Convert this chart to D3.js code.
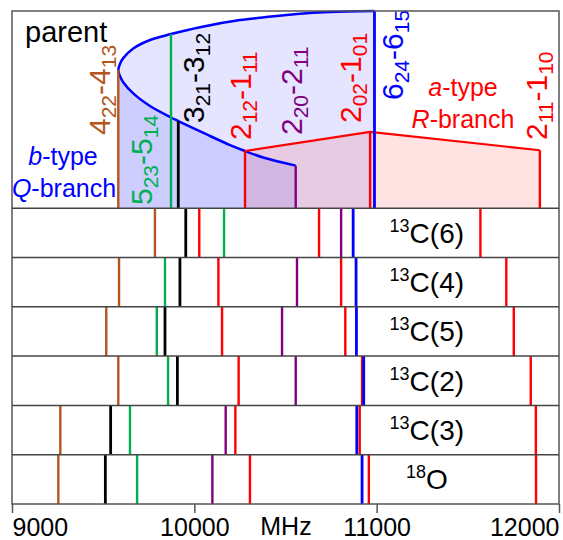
<!DOCTYPE html>
<html>
<head>
<meta charset="utf-8">
<script src="https://cdn.jsdelivr.net/npm/d3@7"></script>
<style>
body { margin:0; background:#fff; }
text { font-family: "Liberation Sans", Arial, Helvetica, sans-serif; }
</style>
</head>
<body>
<script>
// transitions (J Ka Kc - J' Ka' Kc'), same order in every frequency list below
var transitions = [
  ['4','22','4','13'], ['5','23','5','14'], ['3','21','3','12'], ['2','12','1','11'],
  ['2','20','2','11'], ['2','02','1','01'], ['6','24','6','15'], ['2','11','1','10']
];
var lineColors = ['#b4561c', '#00b050', '#000000', '#ff0000', '#800080', '#ff0000', '#0000ff', '#ff0000'];

// parent species, MHz and relative height in the top panel
var parentFreq = [9583, 9872, 9912, 10278, 10556, 10964, 10988, 11895];
var parentInt  = [0.701, 0.883, 0.442, 0.290, 0.216, 0.387, 1.0, 0.294];

// b-type Q-branch envelope
var qUpperFreq = [9583, 9592, 9610, 9665, 9757, 9872, 10031, 10250, 10376, 10563, 10744, 10988];
var qUpperInt  = [0.701, 0.731, 0.761, 0.810, 0.853, 0.883, 0.918, 0.954, 0.967, 0.985, 0.995, 1.0];
var qLowerFreq = [9583, 9592, 9610, 9665, 9757, 9872, 9912, 10068, 10196, 10278, 10378, 10556];
var qLowerInt  = [0.701, 0.670, 0.639, 0.582, 0.518, 0.460, 0.442, 0.374, 0.320, 0.290, 0.257, 0.216];

// a-type R-branch envelope
var rFreq = [10278, 10964, 11895];
var rInt  = [0.290, 0.387, 0.294];

// isotopologues
var isoSup  = ['13', '13', '13', '13', '13', '18'];
var isoName = ['C(6)', 'C(4)', 'C(5)', 'C(2)', 'C(3)', 'O'];
var c13_6 = [9784, 10163, 9953, 10027, 10805, 10684, 10871, 11569];
var c13_4 = [9587, 9839, 9921, 10132, 10563, 10805, 10887, 11711];
var c13_5 = [9517, 9794, 9839, 10152, 10481, 10828, 10889, 11752];
var c13_2 = [9583, 9856, 9907, 10243, 10556, 10920, 10929, 11845];
var c13_3 = [9265, 9647, 9541, 10225, 10172, 10907, 10891, 11873];
var o18   = [9254, 9686, 9512, 10305, 10099, 10957, 10920, 11874];
var isoFreq = [c13_6, c13_4, c13_5, c13_2, c13_3, o18];

var xTicks = [9000, 10000, 11000, 12000];

// ---- layout ----
var W = 563, H = 540;
var plot = {left:12, right:559, top:11, bottom:504};
// label placement: offset from line (px) and bottom end of rotated text (px)
var labelDx = [-8, -19, 26, 6, 6, -9, 29, 7];
var labelY  = [135, 205, 123, 140, 135, 123, 100, 140];

var svg = d3.select('body').append('svg')
            .attr('width', W)
            .attr('height', H);

var x = d3.scaleLinear().domain([9000, 12000]).range([plot.left, plot.right]);
var units = d3.scaleLinear().domain([0, 10]).range([plot.top, plot.bottom]);
var yInt = d3.scaleLinear().domain([0, 1]).range([units(4), plot.top]);

var panel = svg.append('g').classed('parent', true);

function pts(fs, is){
  return fs.map(function(f, i){ return [x(f), yInt(is[i])]; });
}
var curve = d3.line().curve(d3.curveCatmullRom.alpha(0.5));

var upper = pts(qUpperFreq, qUpperInt);
var lower = pts(qLowerFreq, qLowerInt);

// fills
panel.append('path')
   .attr('d', curve(upper) + 'L' + x(10988) + ',' + yInt(0) + 'L' + x(9583) + ',' + yInt(0) + 'Z')
   .attr('fill', '#0000ff').attr('fill-opacity', 0.1);
panel.append('path')
   .attr('d', curve(lower) + 'L' + x(10556) + ',' + yInt(0) + 'L' + x(9583) + ',' + yInt(0) + 'Z')
   .attr('fill', '#0000ff').attr('fill-opacity', 0.1);
var rPts = pts(rFreq, rInt);
panel.append('path')
   .attr('d', 'M' + x(rFreq[0]) + ',' + yInt(0) + d3.line()(rPts).replace('M', 'L') + 'L' + x(rFreq[2]) + ',' + yInt(0) + 'Z')
   .attr('fill', '#ff0000').attr('fill-opacity', 0.11);

// outlines
panel.append('path')
   .attr('d', curve(lower.slice().reverse().concat(upper.slice(1))))
   .attr('fill', 'none').attr('stroke', '#0000ff').attr('stroke-width', 2.5);
panel.append('path')
   .attr('d', d3.line()(rPts))
   .attr('fill', 'none').attr('stroke', '#ff0000').attr('stroke-width', 2.2);

// parent lines
panel.selectAll('line.tr')
   .data(parentFreq)
   .enter()
   .append('line')
   .classed('tr', true)
   .attr('x1', function(d){ return x(d); })
   .attr('x2', function(d){ return x(d); })
   .attr('y1', yInt(0))
   .attr('y2', function(d, i){ return yInt(parentInt[i]); })
   .attr('stroke', function(d, i){ return lineColors[i]; })
   .attr('stroke-width', function(d, i){ return i == 2 || i == 6 ? 2.8 : 2.4; });

// rotated transition labels
transitions.forEach(function(t, i){
  var txt = panel.append('text')
               .attr('transform', 'translate(' + (x(parentFreq[i]) + labelDx[i]) + ',' + labelY[i] + ') rotate(-90)')
               .attr('fill', lineColors[i])
               .style('font-size', '30px');
  txt.append('tspan').text(t[0]);
  txt.append('tspan').attr('dy', 6).style('font-size', '21px').text(t[1]);
  txt.append('tspan').attr('dy', -6).text('-' + t[2]);
  txt.append('tspan').attr('dy', 6).style('font-size', '21px').text(t[3]);
});

panel.append('text').attr('x', 25).attr('y', 42).style('font-size', '29px').text('parent');

var qb = panel.append('text').attr('x', 63).attr('y', 165).attr('text-anchor', 'middle')
            .attr('fill', '#0000ff').style('font-size', '25px');
qb.append('tspan').style('font-style', 'italic').text('b');
qb.append('tspan').text('-type');
var qb2 = panel.append('text').attr('x', 64).attr('y', 197).attr('text-anchor', 'middle')
             .attr('fill', '#0000ff').style('font-size', '25px');
qb2.append('tspan').style('font-style', 'italic').text('Q');
qb2.append('tspan').text('-branch');

var ra = panel.append('text').attr('x', 463).attr('y', 96).attr('text-anchor', 'middle')
            .attr('fill', '#ff0000').style('font-size', '25px');
ra.append('tspan').style('font-style', 'italic').text('a');
ra.append('tspan').text('-type');
var ra2 = panel.append('text').attr('x', 463).attr('y', 128).attr('text-anchor', 'middle')
             .attr('fill', '#ff0000').style('font-size', '25px');
ra2.append('tspan').style('font-style', 'italic').text('R');
ra2.append('tspan').text('-branch');

// isotopologue rows
var rows = svg.selectAll('g.row')
              .data(isoFreq)
              .enter()
              .append('g')
              .classed('row', true);
rows.each(function(freqs, r){
  var g = d3.select(this);
  g.selectAll('line')
   .data(freqs)
   .enter()
   .append('line')
   .attr('x1', function(d){ return x(d); })
   .attr('x2', function(d){ return x(d); })
   .attr('y1', units(4 + r))
   .attr('y2', units(5 + r))
   .attr('stroke', function(d, i){ return lineColors[i]; })
   .attr('stroke-width', function(d, i){ return i == 2 || i == 6 ? 2.8 : 2.4; });
  var lab = g.append('text')
             .attr('x', x(11275))
             .attr('y', units(4.5 + r) + 10)
             .attr('text-anchor', 'middle')
             .style('font-size', '28px');
  lab.append('tspan').attr('dy', -11).style('font-size', '18px').text(isoSup[r]);
  lab.append('tspan').attr('dy', 11).text(isoName[r]);
});

// frame and separators
svg.append('rect')
   .attr('x', plot.left).attr('y', plot.top)
   .attr('width', plot.right - plot.left).attr('height', plot.bottom - plot.top)
   .attr('fill', 'none').attr('stroke', '#555').attr('stroke-width', 1.5);
svg.selectAll('line.sep')
   .data(d3.range(4, 10))
   .enter()
   .append('line')
   .classed('sep', true)
   .attr('x1', plot.left).attr('x2', plot.right)
   .attr('y1', function(d){ return units(d); })
   .attr('y2', function(d){ return units(d); })
   .attr('stroke', '#444').attr('stroke-width', 1.5);

// axis
var xAxis = d3.axisBottom(x)
              .tickValues(xTicks)
              .tickSize(9)
              .tickPadding(5)
              .tickFormat(d3.format('d'));
var ax = svg.append('g')
            .attr('transform', 'translate(0,' + plot.bottom + ')')
            .call(xAxis);
ax.select('.domain').remove();
ax.selectAll('line').attr('stroke', '#555').attr('stroke-width', 1.5);
ax.selectAll('text')
  .style('font-size', '25px')
  .style('font-family', '"Liberation Sans", Arial, sans-serif')
  .attr('fill', '#000')
  .attr('text-anchor', function(d, i){ return i == 0 ? 'start' : (i == xTicks.length - 1 ? 'end' : 'middle'); });
svg.append('text')
   .attr('x', 286).attr('y', 535)
   .attr('text-anchor', 'middle')
   .style('font-size', '25px')
   .text('MHz');
</script>
</body>
</html>
